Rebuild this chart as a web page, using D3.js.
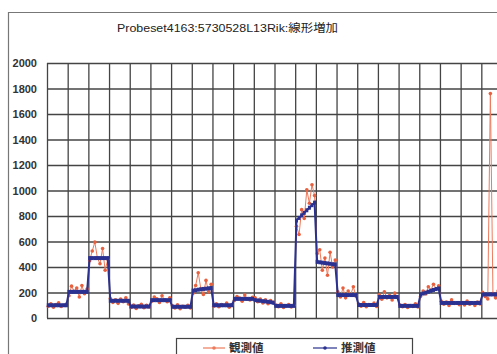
<!DOCTYPE html>
<html><head><meta charset="utf-8">
<script src="https://cdn.jsdelivr.net/npm/d3@7"></script>
<style>html,body{margin:0;padding:0;background:#fff;}svg{display:block;}</style>
</head><body>
<svg id="c" width="497" height="354"></svg>
<script>
const title = "Probeset4163:5730528L13Rik:線形増加";
const seriesNames = ["観測値", "推測値"];
const yTicks = [0, 200, 400, 600, 800, 1000, 1200, 1400, 1600, 1800, 2000];
const groupCount = 22;
const pointsPerGroup = 8;
// 観測値 (observed), 8 samples per group
const observed = [
  92,112,85,106,120,90,100,110,
  175,250,210,235,165,255,190,228,
  450,525,595,470,425,545,375,460,
  152,122,142,115,148,128,158,110,
  82,102,75,96,108,80,99,86,
  132,165,150,122,175,140,128,158,
  96,78,104,72,92,84,100,78,
  195,255,355,230,185,295,205,265,
  92,112,88,106,100,118,85,104,
  138,168,156,132,180,150,142,162,
  158,128,148,118,142,112,136,124,
  102,88,112,82,96,106,86,100,
  720,655,850,780,1005,900,1045,960,
  505,535,375,470,335,515,400,455,
  205,165,235,158,212,185,245,172,
  112,92,122,88,106,100,118,90,
  182,148,205,158,176,142,195,164,
  102,88,106,82,98,90,112,86,
  168,212,188,245,220,265,230,252,
  132,108,126,98,142,114,120,104,
  122,102,132,108,116,98,126,110,
  202,168,150,1760,192,158,212,174
];
// 推測値 (estimated)
const estimated = [
  100,100,100,100,100,100,100,100,
  205,205,205,205,205,205,205,205,
  470,470,470,470,470,470,470,470,
  135,135,135,135,135,135,135,135,
  90,90,90,90,90,90,90,90,
  140,140,140,140,140,140,140,140,
  88,88,88,88,88,88,88,88,
  215,218,222,225,228,230,233,235,
  100,100,100,100,100,100,100,100,
  150,150,150,150,150,150,150,150,
  140,138,135,132,130,127,124,120,
  95,95,95,95,95,95,95,95,
  765,785,805,825,845,865,885,905,
  440,437,434,431,428,425,422,420,
  180,180,180,180,180,180,180,180,
  102,102,102,102,102,102,102,102,
  165,165,165,165,165,165,165,165,
  95,95,95,95,95,95,95,95,
  185,192,199,206,213,220,227,232,
  118,118,118,118,118,118,118,118,
  118,118,118,118,118,118,118,118,
  185,185,185,185,185,185,185,185
];

const svg = d3.select("#c");
const pL = 47, pR = 502, pT = 63, pB = 318;
const n = groupCount * pointsPerGroup;
const x = d3.scaleLinear().domain([0, n]).range([pL, pR]);
const y = d3.scaleLinear().domain([0, 2000]).range([pB, pT]);

// outer chart border
svg.append("path").attr("d", "M8.5,354 V12.5 H497")
  .attr("fill", "none").attr("stroke", "#777").attr("stroke-width", 1.2);

// title
svg.append("text").attr("x", 117).attr("y", 32)
  .attr("font-family", "Liberation Sans, Noto Sans CJK JP, sans-serif")
  .attr("font-size", 11).attr("fill", "#222")
  .attr("textLength", 221).attr("lengthAdjust", "spacingAndGlyphs").text(title);

// horizontal gridlines
const yAxis = d3.axisLeft(y).tickValues(yTicks).tickSize(-(pR - pL)).tickFormat(d3.format("d")).tickPadding(10);
const ga = svg.append("g").attr("transform", `translate(${pL},0)`).call(yAxis);
ga.select(".domain").remove();
ga.selectAll("line").attr("stroke", "#444").attr("stroke-width", 1.3);
ga.selectAll("text").attr("font-family", "Liberation Sans, Arial, sans-serif")
  .attr("font-size", 11).attr("font-weight", "bold").attr("fill", "#333");

// vertical gridlines (group boundaries)
const xAxis = d3.axisBottom(x).tickValues(d3.range(0, n + 1, pointsPerGroup)).tickSize(-(pB - pT)).tickFormat("");
const gx = svg.append("g").attr("transform", `translate(0,${pB})`).call(xAxis);
gx.select(".domain").remove();
gx.selectAll("line").attr("stroke", "#444").attr("stroke-width", 1.3);

// lines
const line = d3.line().x((d, i) => x(i + 0.5)).y(d => y(d));
svg.append("path").datum(observed).attr("d", line)
  .attr("fill", "none").attr("stroke", "#ee7a5c").attr("stroke-width", 1);
svg.selectAll(".om").data(observed).enter().append("circle")
  .attr("cx", (d, i) => x(i + 0.5)).attr("cy", d => y(d)).attr("r", 1.8)
  .attr("fill", "#e8603e");

svg.append("path").datum(estimated).attr("d", line)
  .attr("fill", "none").attr("stroke", "#2a3190").attr("stroke-width", 2);
svg.selectAll(".em").data(estimated).enter().append("rect")
  .attr("x", (d, i) => x(i + 0.5) - 1.5).attr("y", d => y(d) - 2).attr("width", 3).attr("height", 4)
  .attr("fill", "#2a3190");

// legend
svg.append("rect").attr("x", 176.5).attr("y", 338.5).attr("width", 236).attr("height", 30)
  .attr("fill", "#fff").attr("stroke", "#444").attr("stroke-width", 1.2);
const lg = [
  {name: seriesNames[0], x1: 203, x2: 225, tx: 229, color: "#ee7a5c"},
  {name: seriesNames[1], x1: 313, x2: 337, tx: 341, color: "#2a3190"}
];
lg.forEach(l => {
  svg.append("line").attr("x1", l.x1).attr("x2", l.x2).attr("y1", 348).attr("y2", 348)
    .attr("stroke", l.color).attr("stroke-width", 1.2);
  svg.append("circle").attr("cx", (l.x1 + l.x2) / 2).attr("cy", 348).attr("r", 1.8).attr("fill", l.color);
  svg.append("text").attr("x", l.tx).attr("y", 352).attr("font-family", "Noto Sans CJK JP, sans-serif")
    .attr("font-size", 11.5).attr("font-weight", "bold").attr("fill", "#333").text(l.name);
});
</script>
</body></html>
